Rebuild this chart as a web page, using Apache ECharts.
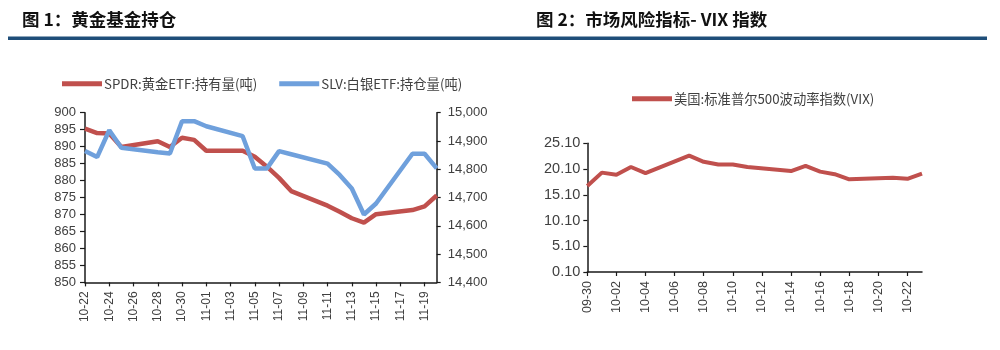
<!DOCTYPE html>
<html>
<head>
<meta charset="utf-8">
<script src="https://cdn.jsdelivr.net/npm/echarts@6/dist/echarts.min.js"></script>
<style>
html,body{margin:0;padding:0;background:#fff;}
#c{width:1000px;height:350px;}
</style>
</head>
<body>
<div id="c"></div>
<script>
// ---- Figure 1 data ----
var goldDates = ['10-22','10-23','10-24','10-25','10-26','10-27','10-28','10-29','10-30','10-31',
  '11-01','11-02','11-03','11-04','11-05','11-06','11-07','11-08','11-09','11-10',
  '11-11','11-12','11-13','11-14','11-15','11-16','11-17','11-18','11-19','11-20'];
var spdrGold = [895.3,894.0,893.9,889.9,null,null,891.6,889.9,892.6,892.0,
  888.8,null,null,888.8,887.0,884.1,880.8,876.9,null,null,
  872.6,870.8,868.9,867.6,870.1,null,null,871.3,872.4,875.6];
var slvSilver = [14865,14843,14938,14876,null,null,14860,14856,14970,14970,
  14952,null,null,14917,14803,14803,14864,14853,null,null,
  14820,14780,14732,14640,14679,null,null,14855,14855,14803];
var goldName = 'SPDR:黄金ETF:持有量(吨)';
var silverName = 'SLV:白银ETF:持仓量(吨)';
// ---- Figure 2 data ----
var vixDates = ['09-30','10-01','10-02','10-03','10-04','10-05','10-06','10-07','10-08','10-09',
  '10-10','10-11','10-12','10-13','10-14','10-15','10-16','10-17','10-18','10-19',
  '10-20','10-21','10-22','10-23'];
var vixValues = [16.8,19.4,19.0,20.5,19.3,null,null,22.7,21.5,21.0,
  21.0,20.5,null,null,19.7,20.7,19.6,19.1,18.1,null,
  null,18.4,18.2,19.2];
var vixName = '美国:标准普尔500波动率指数(VIX)';
var title1 = '图 1：黄金基金持仓';
var title2 = '图 2：市场风险指标- VIX 指数';

var RED = '#C0504D', BLUE = '#6FA0DC', AX = '#1a1a1a', TXT = '#404040';
var NUMFONT = 'Liberation Sans';
var CJK = '"Noto Sans CJK SC", "Liberation Sans", sans-serif';

var chart = echarts.init(document.getElementById('c'), null, {renderer:'canvas'});
function axLine(){ return {show:true, lineStyle:{color:AX, width:1.5}}; }
chart.setOption({
  backgroundColor:'#ffffff',
  animation:false,
  graphic:[
    {type:'text', left:22, top:11, style:{text:title1, font:'bold 17.5px "Noto Sans CJK SC", sans-serif', fill:'#111'}},
    {type:'text', left:536, top:11, style:{text:title2, font:'bold 17.5px "Noto Sans CJK SC", sans-serif', fill:'#111'}},
    {type:'rect', shape:{x:8, y:36.5, width:979, height:3.5}, style:{fill:'#1F4E79'}}
  ],
  legend:[
    {left:57, top:72, itemWidth:40, itemHeight:5, itemGap:22, icon:'rect',
     textStyle:{fontFamily:CJK, fontSize:13.3, color:TXT, padding:[0,0,0,-3]},
     data:[goldName, silverName]},
    {left:627, top:87, itemWidth:40, itemHeight:5, icon:'rect',
     textStyle:{fontFamily:CJK, fontSize:13.3, color:TXT, padding:[0,0,0,-3]},
     data:[vixName]}
  ],
  grid:[
    {left:85, right:563.3, top:112.7, bottom:67.6},
    {left:587.3, right:78, top:143.3, bottom:78}
  ],
  xAxis:[
    {type:'category', gridIndex:0, data:goldDates, boundaryGap:false,
     axisLine:axLine(), axisTick:{show:true, interval:1, length:4, lineStyle:{color:AX,width:1.2}},
     axisLabel:{interval:1, rotate:90, margin:9, fontFamily:NUMFONT, fontSize:12, color:TXT}},
    {type:'category', gridIndex:1, data:vixDates, boundaryGap:false,
     axisLine:axLine(), axisTick:{show:true, interval:1, length:4, lineStyle:{color:AX,width:1.2}},
     axisLabel:{interval:1, rotate:90, margin:9, fontFamily:NUMFONT, fontSize:12.5, color:TXT}}
  ],
  yAxis:[
    {type:'value', gridIndex:0, min:850, max:900, interval:5, position:'left',
     axisLine:axLine(), axisTick:{show:true, length:5, lineStyle:{color:AX,width:1.2}},
     splitLine:{show:false},
     axisLabel:{margin:9, fontFamily:NUMFONT, fontSize:13, color:TXT}},
    {type:'value', gridIndex:0, min:14400, max:15000, interval:100, position:'right',
     axisLine:axLine(), axisTick:{show:true, length:4, lineStyle:{color:AX,width:1.2}},
     splitLine:{show:false},
     axisLabel:{margin:11, fontFamily:NUMFONT, fontSize:13, color:TXT,
       formatter:function(v){return v.toString().replace(/\B(?=(\d{3})+(?!\d))/g, ',');}}},
    {type:'value', gridIndex:1, min:0.1, max:25.1, interval:5, position:'left',
     axisLine:axLine(), axisTick:{show:true, length:4, lineStyle:{color:AX,width:1.2}},
     splitLine:{show:false},
     axisLabel:{margin:7, fontFamily:NUMFONT, fontSize:14.5, color:TXT,
       formatter:function(v){return v.toFixed(2);}}}
  ],
  series:[
    {name:goldName, type:'line', xAxisIndex:0, yAxisIndex:0, data:spdrGold, connectNulls:true,
     showSymbol:false, symbol:'none', lineStyle:{color:RED, width:4.5}, itemStyle:{color:RED}, z:2},
    {name:silverName, type:'line', xAxisIndex:0, yAxisIndex:1, data:slvSilver, connectNulls:true,
     showSymbol:false, symbol:'none', lineStyle:{color:BLUE, width:4.5}, itemStyle:{color:BLUE}, z:3},
    {name:vixName, type:'line', xAxisIndex:1, yAxisIndex:2, data:vixValues, connectNulls:true,
     showSymbol:false, symbol:'none', lineStyle:{color:RED, width:4}, itemStyle:{color:RED}, z:2}
  ]
});
</script>
</body>
</html>
